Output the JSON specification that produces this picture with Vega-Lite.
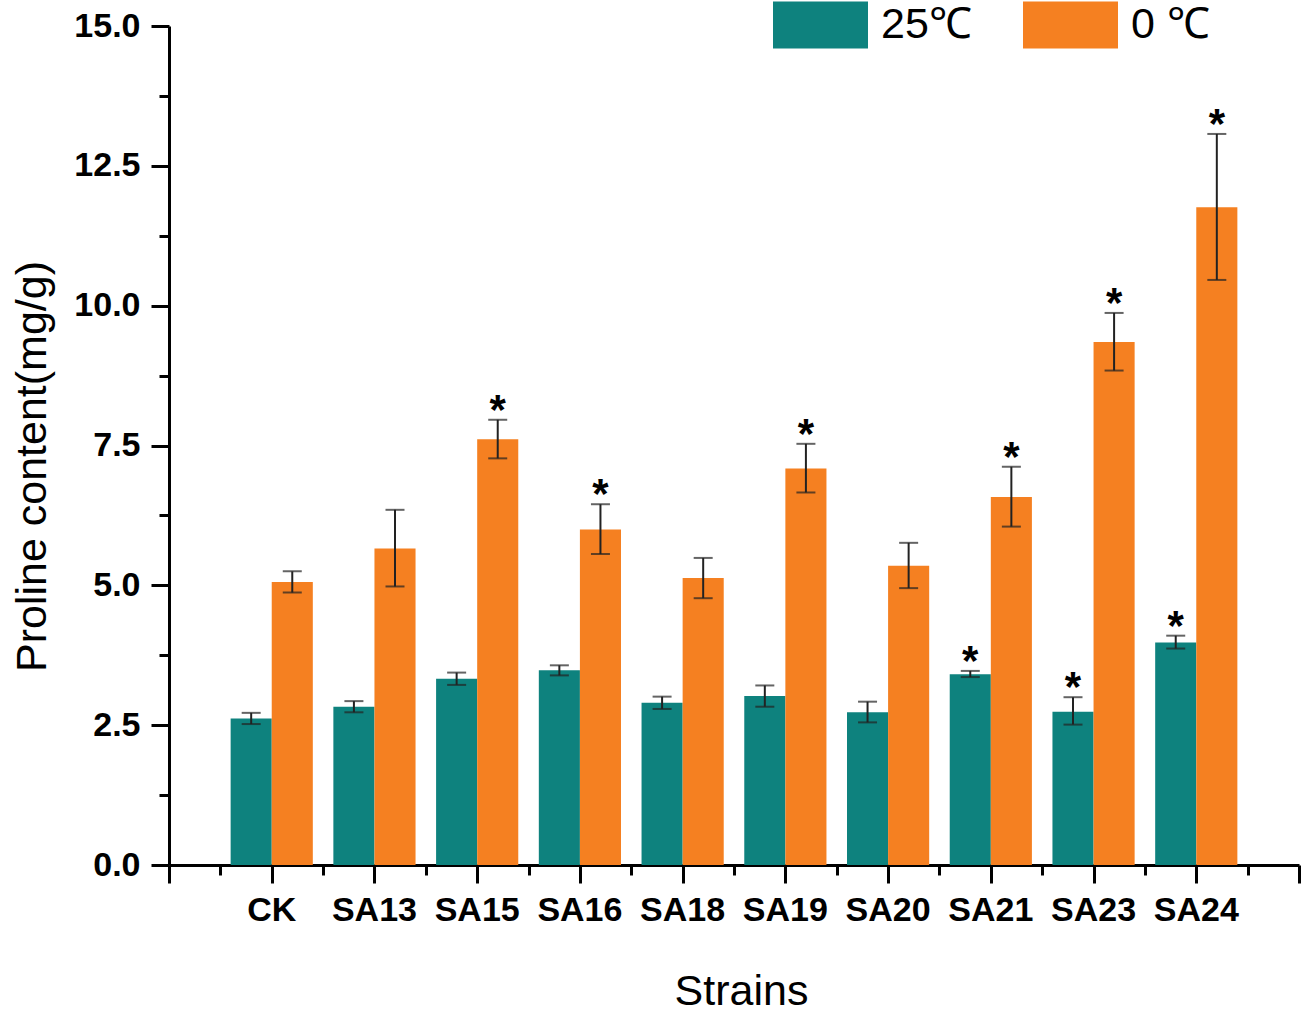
{
  "$schema": "https://vega.github.io/schema/vega-lite/v6.json",
  "width": 1130,
  "height": 839,
  "autosize": {"type": "none"},
  "padding": {"left": 169, "top": 26, "right": 2, "bottom": 152},
  "background": "white",
  "config": {
    "font": "Liberation Sans",
    "view": {"stroke": null},
    "axis": {"grid": false, "labelColor": "#000", "titleColor": "#000", "domainColor": "#000", "tickColor": "#000"}
  },
  "data": {
    "values": [
      {"strain": "CK", "temp": "25℃", "value": 2.62, "lo": 2.52, "hi": 2.72, "sig": ""},
      {"strain": "CK", "temp": "0 ℃", "value": 5.06, "lo": 4.87, "hi": 5.25, "sig": ""},
      {"strain": "SA13", "temp": "25℃", "value": 2.83, "lo": 2.73, "hi": 2.93, "sig": ""},
      {"strain": "SA13", "temp": "0 ℃", "value": 5.66, "lo": 4.98, "hi": 6.35, "sig": ""},
      {"strain": "SA15", "temp": "25℃", "value": 3.33, "lo": 3.22, "hi": 3.44, "sig": ""},
      {"strain": "SA15", "temp": "0 ℃", "value": 7.61, "lo": 7.27, "hi": 7.96, "sig": "*"},
      {"strain": "SA16", "temp": "25℃", "value": 3.48, "lo": 3.39, "hi": 3.57, "sig": ""},
      {"strain": "SA16", "temp": "0 ℃", "value": 6.0, "lo": 5.56, "hi": 6.45, "sig": "*"},
      {"strain": "SA18", "temp": "25℃", "value": 2.9, "lo": 2.79, "hi": 3.01, "sig": ""},
      {"strain": "SA18", "temp": "0 ℃", "value": 5.13, "lo": 4.77, "hi": 5.49, "sig": ""},
      {"strain": "SA19", "temp": "25℃", "value": 3.02, "lo": 2.83, "hi": 3.21, "sig": ""},
      {"strain": "SA19", "temp": "0 ℃", "value": 7.09, "lo": 6.66, "hi": 7.53, "sig": "*"},
      {"strain": "SA20", "temp": "25℃", "value": 2.73, "lo": 2.55, "hi": 2.92, "sig": ""},
      {"strain": "SA20", "temp": "0 ℃", "value": 5.35, "lo": 4.95, "hi": 5.76, "sig": ""},
      {"strain": "SA21", "temp": "25℃", "value": 3.41, "lo": 3.36, "hi": 3.47, "sig": "*"},
      {"strain": "SA21", "temp": "0 ℃", "value": 6.58, "lo": 6.05, "hi": 7.12, "sig": "*"},
      {"strain": "SA23", "temp": "25℃", "value": 2.74, "lo": 2.51, "hi": 3.0, "sig": "*"},
      {"strain": "SA23", "temp": "0 ℃", "value": 9.35, "lo": 8.84, "hi": 9.87, "sig": "*"},
      {"strain": "SA24", "temp": "25℃", "value": 3.98, "lo": 3.87, "hi": 4.1, "sig": "*"},
      {"strain": "SA24", "temp": "0 ℃", "value": 11.76, "lo": 10.46, "hi": 13.07, "sig": "*"}
    ]
  },
  "resolve": {"scale": {"x": "independent"}, "axis": {"x": "independent"}},
  "layer": [
    {
      "encoding": {
        "x": {
          "field": "strain", "type": "nominal", "sort": null,
          "scale": {"paddingInner": 0.2, "paddingOuter": 0.6},
          "axis": {
            "orient": "bottom", "ticks": false, "domain": false, "labelAngle": 0,
            "labelFontSize": 34, "labelFontWeight": "bold", "labelPadding": 28,
            "title": "Strains", "titleFontSize": 43, "titleFontWeight": "normal",
            "titleX": 572, "titleY": 139, "titleBaseline": "alphabetic", "titleAlign": "center"
          }
        },
        "xOffset": {"field": "temp", "type": "nominal", "sort": ["25℃", "0 ℃"], "scale": {"paddingInner": 0, "paddingOuter": 0}}
      },
      "layer": [
        {
          "mark": {"type": "bar"},
          "encoding": {
            "y": {
              "field": "value", "type": "quantitative", "title": "Proline content(mg/g)",
              "scale": {"domain": [0, 15], "nice": false, "zero": true},
              "axis": {
                "values": [0, 1.25, 2.5, 3.75, 5, 6.25, 7.5, 8.75, 10, 11.25, 12.5, 13.75, 15],
                "labelExpr": "datum.value % 2.5 === 0 ? format(datum.value, '.1f') : ''",
                "labelFontSize": 34, "labelFontWeight": "bold", "labelPadding": 11,
                "labelOverlap": false, "labelFlush": false,
                "tickSize": 18, "tickWidth": 3, "domainWidth": 3,
                "tickDash": {"condition": {"test": "datum.value % 2.5 !== 0", "value": [10, 40]}, "value": [40, 1]},
                "title": "Proline content(mg/g)", "titleFontSize": 43, "titleFontWeight": "normal",
                "titleX": -124, "titleY": 440, "titleAngle": -90, "titleBaseline": "alphabetic", "titleAlign": "center"
              }
            },
            "color": {
              "field": "temp", "type": "nominal",
              "scale": {"domain": ["25℃", "0 ℃"], "range": ["#0e827e", "#f58021"]},
              "legend": {
                "title": null, "orient": "none", "legendX": 604, "legendY": -49,
                "direction": "horizontal", "columns": 2, "gridAlign": "all", "columnPadding": 51,
                "symbolType": "M-1,-0.495H1V0.495H-1Z", "symbolSize": 9025, "symbolStrokeWidth": 0,
                "labelFontSize": 43, "labelOffset": 13, "labelColor": "#000", "labelLimit": 300, "padding": 0
              }
            }
          }
        },
        {
          "mark": {"type": "rule", "color": "#222", "strokeWidth": 2},
          "encoding": {
            "y": {"field": "lo", "type": "quantitative", "title": "Proline content(mg/g)"},
            "y2": {"field": "hi"}
          }
        },
        {
          "mark": {"type": "tick", "color": "#222", "thickness": 2, "size": 19},
          "encoding": {"y": {"field": "hi", "type": "quantitative", "title": "Proline content(mg/g)"}}
        },
        {
          "mark": {"type": "tick", "color": "#222", "thickness": 2, "size": 19},
          "encoding": {"y": {"field": "lo", "type": "quantitative", "title": "Proline content(mg/g)"}}
        },
        {
          "mark": {"type": "text", "fontSize": 42, "fontWeight": "bold", "baseline": "alphabetic", "align": "center", "dy": 4, "color": "#000"},
          "encoding": {
            "y": {"field": "hi", "type": "quantitative", "title": "Proline content(mg/g)"},
            "text": {"field": "sig"}
          }
        }
      ]
    },
    {
      "mark": {"type": "rule", "opacity": 0},
      "encoding": {
        "x": {
          "datum": 0, "type": "quantitative",
          "scale": {"domain": [0, 11], "nice": false, "zero": false},
          "axis": {
            "orient": "bottom", "title": null, "labels": false,
            "values": [0, 0.5, 1, 1.5, 2, 2.5, 3, 3.5, 4, 4.5, 5, 5.5, 6, 6.5, 7, 7.5, 8, 8.5, 9, 9.5, 10, 10.5, 11],
            "tickSize": 18, "tickWidth": 3, "domainWidth": 3,
            "tickDash": {"condition": {"test": "datum.value % 1 !== 0", "value": [10, 40]}, "value": [40, 1]}
          }
        }
      }
    }
  ]
}
